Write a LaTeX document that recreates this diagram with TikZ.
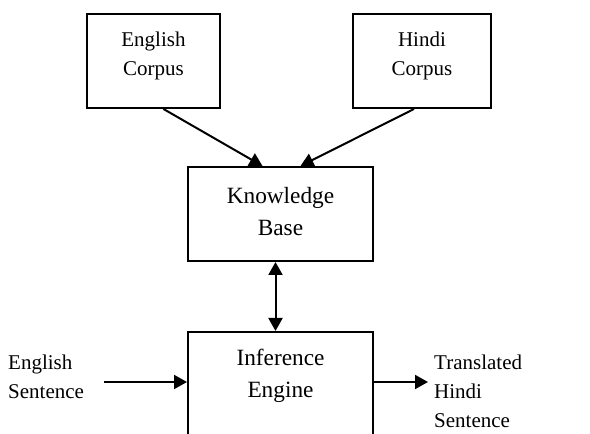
\documentclass[tikz,border=0pt]{standalone}
\usepackage{fontspec}
\setmainfont{Liberation Serif}
\usetikzlibrary{arrows.meta}

\tikzset{
  block/.style={draw, line width=2pt, align=center, inner sep=0pt},
  small/.style={font=\fontsize{21}{29}\selectfont},
  big/.style={font=\fontsize{23.3}{32}\selectfont},
  sidetext/.style={small, align=left, anchor=west, inner sep=0pt},
  flow/.style={line width=2pt, -{Triangle[length=13pt,width=14pt]}},
}

\begin{document}
\begin{tikzpicture}[x=1pt,y=1pt]
\useasboundingbox (0,0) rectangle (590,434);
% blocks
\node[block,small,minimum width=133pt,minimum height=94pt,text depth=15pt] (engcorp) at (153.5,373) {English\\Corpus};
\node[block,small,minimum width=138pt,minimum height=94pt,text depth=15pt] (hincorp) at (422,373) {Hindi\\Corpus};
\node[block,big,minimum width=185pt,minimum height=94pt,text depth=6pt] (kb) at (280.5,220) {Knowledge\\Base};
\node[block,big,minimum width=185pt,anchor=north,inner ysep=0pt,text height=66pt,text depth=70pt] (infer) at (280.5,103) {Inference\\Engine};
% side texts
\node[sidetext] (insent) at (8,57) {English\\Sentence};
\node[sidetext] (outsent) at (434,43) {Translated\\Hindi\\Sentence};
\coordinate (insrc) at (104,52);
\coordinate (outend) at (428,52);
% arrows
\draw[flow] ([xshift=10pt]engcorp.south) -- ([xshift=-18pt]kb.north);
\draw[flow] ([xshift=-8pt]hincorp.south) -- ([xshift=20pt]kb.north);
\draw[flow,{Triangle[length=13pt,width=14pt]}-{Triangle[length=13pt,width=14pt]}] ([xshift=-5pt]kb.south) -- ([xshift=-5pt]infer.north);
\draw[flow] (insrc) -- (insrc -| infer.west);
\draw[flow] (outend -| infer.east) -- (outend);
\end{tikzpicture}
\end{document}
